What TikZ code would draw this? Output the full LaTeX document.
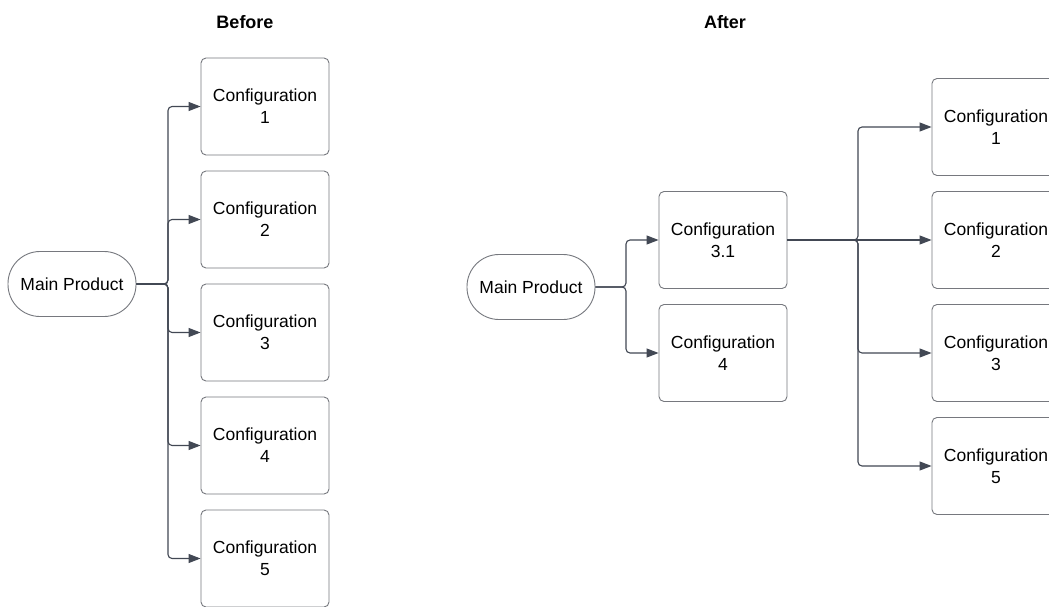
\documentclass[tikz,border=0pt]{standalone}
\usepackage{fontspec}
\setmainfont{Liberation Sans}
\usetikzlibrary{arrows.meta}
\definecolor{edgecol}{RGB}{66,72,84}
\definecolor{boxcol}{RGB}{118,120,126}
\begin{document}
\begin{tikzpicture}[x=1pt,y=-1pt,
  cfg/.style={draw=boxcol, line width=0.9pt, rounded corners=5pt, minimum width=128pt, minimum height=97pt, align=center, inner sep=0pt, font=\fontsize{17.5}{22}\selectfont},
  prod/.style={draw=boxcol, line width=0.9pt, rounded corners=32pt, minimum width=128pt, minimum height=65pt, inner sep=0pt, font=\fontsize{17.5}{22}\selectfont},
  conn/.style={draw=edgecol, line width=1.1pt, rounded corners=4pt, -{Triangle[length=12pt,width=9pt]}},
  title/.style={font=\fontsize{18}{22}\selectfont\bfseries}]
\useasboundingbox (0,0) rectangle (1049,607);
\clip (0,0) rectangle (1049,607);
\fill[white] (0,0) rectangle (1049,607);
% titles
\node[title] (tb) at (245,22) {Before};
\node[title] (ta) at (725,22) {After};
% before
\node[prod] (mp1) at (72,284) {Main Product};
\node[cfg] (b1) at (265,106.5) {Configuration\\1};
\node[cfg] (b2) at (265,219.5) {Configuration\\2};
\node[cfg] (b3) at (265,332.5) {Configuration\\3};
\node[cfg] (b4) at (265,445.5) {Configuration\\4};
\node[cfg] (b5) at (265,558.5) {Configuration\\5};
\coordinate (j1) at (168,284);
\foreach \b in {b1,b2,b3,b4,b5}{
  \draw[conn] (mp1.east) -- (j1) |- (\b.west);
}
% after
\node[prod] (mp2) at (531,287) {Main Product};
\node[cfg] (c31) at (723,240) {Configuration\\3.1};
\node[cfg] (c4) at (723,353) {Configuration\\4};
\coordinate (j2) at (626,287);
\draw[conn] (mp2.east) -- (j2) |- (c31.west);
\draw[conn] (mp2.east) -- (j2) |- (c4.west);
\node[cfg] (r1) at (996,127) {Configuration\\1};
\node[cfg] (r2) at (996,240) {Configuration\\2};
\node[cfg] (r3) at (996,353) {Configuration\\3};
\node[cfg] (r4) at (996,466) {Configuration\\5};
\coordinate (j3) at (858,240);
\draw[conn] (c31.east) -- (j3) |- (r1.west);
\draw[conn] (c31.east) -- (r2.west);
\draw[conn] (c31.east) -- (j3) |- (r3.west);
\draw[conn] (c31.east) -- (j3) |- (r4.west);
\end{tikzpicture}
\end{document}
